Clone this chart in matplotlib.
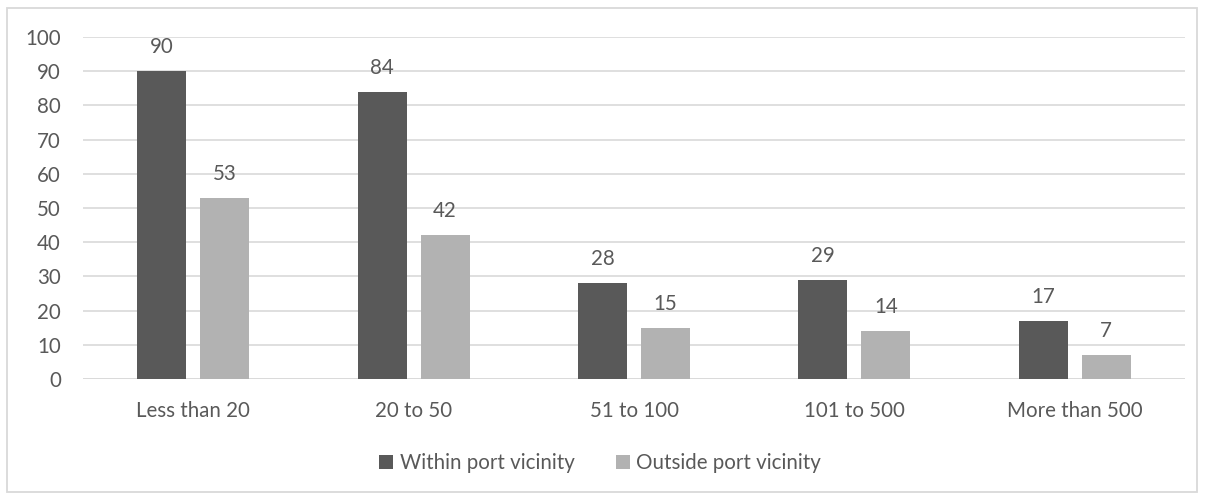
import matplotlib
matplotlib.use("Agg")
import matplotlib.pyplot as plt
import numpy as np
from matplotlib.patches import Rectangle

categories = ["Less than 20", "20 to 50", "51 to 100", "101 to 500", "More than 500"]
within = [90, 84, 28, 29, 17]
outside = [53, 42, 15, 14, 7]
series_names = ["Within port vicinity", "Outside port vicinity"]
yticks = [0, 10, 20, 30, 40, 50, 60, 70, 80, 90, 100]

dark = "#595959"
light = "#b2b2b2"
text_c = "#595959"
grid_c = "#d9d9d9"
fs = 14.8

plt.rcParams["font.family"] = ["Lato", "DejaVu Sans"]

W, H = 1205, 498
fig = plt.figure(figsize=(W / 100, H / 100), dpi=100)
fig.patches.append(Rectangle((7 / W, 1 - 492 / H), 1190 / W, 484 / H, transform=fig.transFigure,
                             fill=False, edgecolor="#d9d9d9", linewidth=1.3))

ax = fig.add_axes([83 / W, 1 - 379 / H, (1185 - 83) / W, (379 - 37) / H])
x = np.arange(len(categories))
bw = 49 / 220.4
off = (49 + 14) / 2 / 220.4
b1 = ax.bar(x - off, within, bw, color=dark, label=series_names[0], zorder=3)
b2 = ax.bar(x + off, outside, bw, color=light, label=series_names[1], zorder=3)

for bars, vals in ((b1, within), (b2, outside)):
    for r, v in zip(bars, vals):
        ax.annotate(str(v), (r.get_x() + r.get_width() / 2, v), xytext=(0, 10),
                    textcoords="offset points", ha="center", va="bottom",
                    fontsize=fs, color=text_c)

ax.set_xlim(-0.5, len(categories) - 0.5)
ax.set_ylim(0, 100)
ax.set_yticks(yticks)
ax.set_xticks(x)
ax.set_xticklabels(categories)
ax.yaxis.grid(True, color=grid_c, linewidth=1.2, zorder=0)
ax.tick_params(axis="both", length=0, labelsize=fs, colors=text_c)
ax.tick_params(axis="y", pad=16)
ax.tick_params(axis="x", pad=16)
for s in ax.spines.values():
    s.set_visible(False)
ax.axhline(0, color=grid_c, linewidth=1.2, zorder=2)

fig.legend(handles=[b1, b2], loc="center", bbox_to_anchor=(600 / W, 1 - 463 / H), ncol=2,
           frameon=False, fontsize=fs, labelcolor=text_c, handlelength=0.7, handleheight=0.7,
           handletextpad=0.3, columnspacing=2.0)

fig.savefig("out.png", dpi=100)
